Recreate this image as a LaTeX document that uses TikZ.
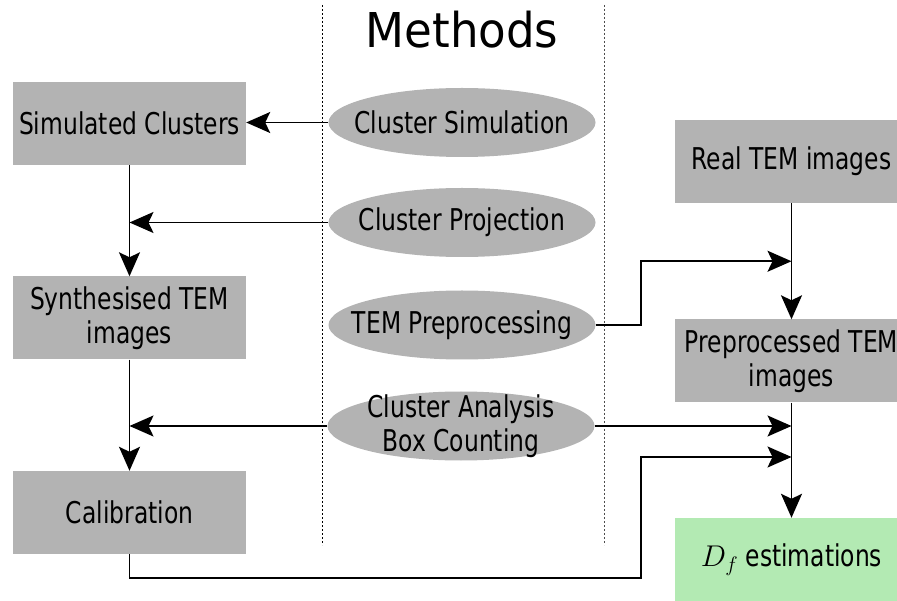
\RequirePackage{fix-cm}
\documentclass[tikz,border=0pt]{standalone}
\usepackage{fontspec}
\setmainfont{DejaVu Sans}
\newfontfamily\boxfont[FakeStretch=0.78]{DejaVu Sans}
\newfontfamily\headfont[FakeStretch=0.94]{DejaVu Sans}
\usetikzlibrary{positioning,shapes.geometric,arrows.meta,calc}
\definecolor{boxgray}{RGB}{179,179,179}
\definecolor{resgreen}{RGB}{179,234,179}

\begin{document}
\begin{tikzpicture}[x=1pt,y=-1pt,
    every node/.style={font=\boxfont\fontsize{30}{34}\selectfont, align=center, inner sep=0pt},
    stage/.style={rectangle, fill=boxgray, minimum width=233pt, minimum height=83pt},
    result/.style={stage, fill=resgreen},
    method/.style={ellipse, fill=boxgray, minimum width=267pt, minimum height=69pt},
    arr/.style={-{Stealth[length=24pt,width=21pt,inset=5pt]}, line width=1.8pt},
    divider/.style={line width=0.8pt, dash pattern=on 2pt off 2pt}]
    \useasboundingbox (0,0) rectangle (897,601);
    \clip (0,0) rectangle (897,601);

    % column separators and heading
    \draw[divider] (322,5) -- (322,545);
    \draw[divider, black!70] (604,5) -- (604,545);
    \node[font=\headfont\fontsize{48}{56}\selectfont, anchor=base] (title) at (462,48) {Methods};

    % data on the left and right
    \node[stage] (simc) at (129.5,123.5) {Simulated Clusters};
    \node[stage] (synth) at (129.5,318) {Synthesised TEM\\images};
    \node[stage] (calib) at (129.5,512.5) {Calibration};
    \node[stage] (realtem) at (791.5,161.5) {Real TEM images};
    \node[stage] (pretem) at (791.5,361) {Preprocessed TEM\\images};
    \node[result] (df) at (791.5,559.5) {$D_f$ estimations};

    % methods in the middle
    \node[method, label={center:Cluster Simulation}] (msim) at (462,122.5) {};
    \node[method, label={center:Cluster Projection}] (mproj) at (462,222.5) {};
    \node[method, label={center:TEM Preprocessing}] (mprep) at (462,325) {};
    \node[method, label={center:{Cluster Analysis\\Box Counting}}] (mana) at (461,426) {};

    \coordinate (bend) at ($(mprep.east)+(45,0)$);
    \coordinate (jprep) at ($(realtem.south)!0.5!(pretem.north)$);
    \coordinate (jcal) at (791.5,457);

    % left column
    \draw[arr] (msim.west) -- (msim.west -| simc.east);
    \draw[arr] (simc.south) -- (synth.north);
    \draw[arr] (mproj.west) -- (mproj.west -| simc.south);
    \draw[arr] (synth.south) -- (calib.north);
    \draw[arr] (mana.west) -- (mana.west -| synth.south);

    % right column
    \draw[arr] (realtem.south) -- (pretem.north);
    \draw[arr] (mprep.east) -- (bend) |- (jprep);
    \draw[arr] (pretem.south) -- (df.north);
    \draw[arr] (mana.east) -- (mana.east -| pretem.south);
    \draw[arr] (calib.south) |- (bend |- 0,578) |- (jcal);
\end{tikzpicture}
\end{document}
